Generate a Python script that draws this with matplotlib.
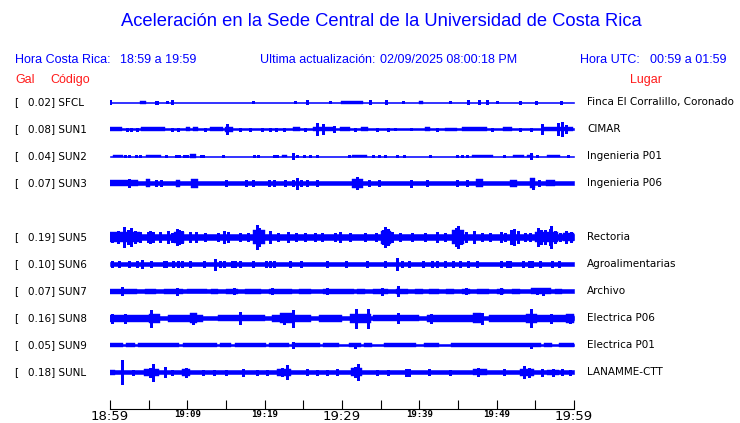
"""Aceleracion en la Sede Central de la UCR: one-hour acceleration traces."""

from datetime import datetime, timedelta

import matplotlib

matplotlib.use("Agg")
import matplotlib.pyplot as plt
import matplotlib.transforms as mtransforms

TITLE = "Aceleración en la Sede Central de la Universidad de Costa Rica"
LOCAL_START = "18:59"
LOCAL_END = "19:59"
UTC_START = "00:59"
UTC_END = "01:59"
UPDATED = "02/09/2025 08:00:18 PM"
WINDOW_MIN = 60

# one slot per station row; the empty slot is a station with no data
CODES = ["SFCL", "SUN1", "SUN2", "SUN3", "", "SUN5", "SUN6", "SUN7", "SUN8", "SUN9", "SUNL"]
PEAK_GAL = [0.02, 0.08, 0.04, 0.07, None, 0.19, 0.10, 0.07, 0.16, 0.05, 0.18]
PLACES = [
    "Finca El Corralillo, Coronado", "CIMAR", "Ingenieria P01", "Ingenieria P06", "",
    "Rectoria", "Agroalimentarias", "Archivo", "Electrica P06", "Electrica P01",
    "LANAMME-CTT",
]

# background noise half-amplitude of each trace (screen counts)
BASE = [0.5, 0.6, 0.5, 2.0, None, 3.2, 1.7, 1.7, 2.3, 0.8, 1.7]

# bursts: (start minute, end minute, half-amplitude)
SEG_SFCL = [(3.9, 4.7, 1.5), (29.9, 32.7, 1.5), (40.0, 40.5, 1.5)]
SEG_SUN1 = [(0.0, 1.5, 1.8), (4.0, 7.1, 1.8), (9.8, 10.3, 1.8), (10.7, 11.4, 1.8),
            (12.9, 14.6, 1.8), (14.9, 15.9, 2.5), (23.7, 24.6, 1.8), (26.2, 28.8, 2.2),
            (29.7, 31.0, 1.8), (32.5, 33.4, 1.8), (40.7, 41.4, 1.8), (43.3, 44.9, 1.5),
            (45.5, 48.8, 1.8), (50.8, 52.0, 1.8), (56.0, 59.9, 2.0)]
SEG_SUN2 = [(0.4, 1.7, 1.3), (4.7, 6.6, 1.2), (10.3, 11.1, 2.2), (22.2, 22.9, 1.2),
            (31.3, 33.2, 1.3), (46.8, 49.5, 1.3), (52.1, 53.5, 1.2), (53.9, 54.7, 1.3),
            (56.5, 58.2, 1.2)]
SEG_SUN3 = [(0.0, 3.6, 3.0), (4.7, 5.2, 4.0), (8.5, 9.0, 3.5), (10.5, 11.4, 4.5),
            (31.3, 32.7, 4.5), (47.3, 48.2, 4.0), (51.7, 52.6, 3.5), (54.3, 55.0, 5.0),
            (56.4, 57.5, 3.0)]
SEG_SUN5 = [(0.0, 3.9, 5.0), (8.3, 9.6, 5.5), (18.5, 20.0, 7.0), (35.1, 36.4, 6.5),
            (44.2, 45.8, 7.0), (55.0, 57.9, 5.0), (58.6, 60.0, 4.0)]
SEG_SUN6 = []
SEG_SUN7 = [(0.0, 3.5, 2.5), (4.5, 6.0, 2.5), (7.0, 9.5, 2.5), (10.0, 12.5, 2.3),
            (13.0, 14.0, 2.5), (15.0, 16.5, 2.5), (17.5, 19.5, 2.5), (20.5, 23.5, 2.5),
            (24.5, 26.0, 2.5), (27.5, 31.5, 2.5), (32.0, 33.0, 2.5), (34.0, 36.0, 2.5),
            (37.0, 38.5, 2.5), (39.5, 40.5, 2.5), (41.2, 42.5, 2.5), (43.5, 44.5, 2.5),
            (45.5, 46.5, 2.5), (47.5, 49.0, 2.5), (50.0, 51.0, 2.5), (52.0, 53.0, 2.5),
            (54.5, 57.0, 2.8), (57.5, 58.5, 2.5)]
SEG_SUN8 = [(0.0, 5.0, 3.5), (5.0, 6.5, 4.5), (7.5, 12.0, 3.5), (10.3, 11.3, 5.0),
            (14.0, 20.0, 3.3), (21.0, 26.0, 3.5), (22.0, 23.5, 5.0), (27.0, 30.0, 3.5),
            (31.0, 33.8, 4.5), (34.0, 40.0, 3.3), (41.0, 48.0, 3.5), (47.0, 48.0, 5.0),
            (49.0, 60.0, 3.5), (53.8, 55.2, 4.5), (59.0, 60.0, 4.5)]
SEG_SUN9 = [(0.0, 1.7, 1.7), (2.1, 3.2, 1.7), (3.6, 8.9, 1.7), (9.4, 13.8, 1.7),
            (14.2, 15.7, 1.7), (16.1, 20.2, 1.7), (20.6, 23.1, 1.7), (23.5, 27.1, 1.7),
            (27.5, 29.6, 1.7), (30.9, 32.5, 1.7), (32.9, 33.9, 1.7), (35.4, 39.6, 1.7),
            (40.6, 42.6, 1.7), (44.1, 55.7, 1.7), (56.1, 57.2, 1.7), (58.0, 60.0, 1.7)]
SEG_SUNL = [(0.0, 0.6, 2.5), (4.4, 6.3, 3.5), (9.3, 10.3, 3.5), (21.6, 23.4, 3.5),
            (31.1, 32.6, 4.0), (46.9, 48.8, 3.0), (53.0, 54.8, 3.5), (56.5, 58.0, 2.5)]

# single spikes: (minute, half-amplitude)
SPK_SFCL = [(0.05, 2.0), (5.9, 1.5), (6.1, 1.5), (7.4, 1.0), (8.0, 2.0), (18.5, 1.0),
            (23.9, 1.0), (25.5, 2.0), (28.4, 1.0), (33.6, 2.0), (35.7, 2.0), (37.9, 1.0),
            (44.0, 1.0), (46.3, 2.0), (47.7, 2.0), (48.7, 2.0), (50.0, 1.0), (53.0, 1.5),
            (55.1, 1.5), (58.3, 1.5)]
SPK_SUN1 = [(2.2, 1.5), (2.7, 1.5), (3.5, 1.5), (8.0, 1.5), (8.8, 1.5), (12.3, 1.5),
            (15.1, 5.0), (16.8, 1.5), (18.1, 1.5), (19.7, 1.5), (20.7, 1.5), (21.5, 1.5),
            (22.5, 1.5), (25.2, 1.5), (26.8, 6.0), (27.5, 5.0), (29.0, 3.0), (31.7, 1.5),
            (34.5, 1.5), (35.9, 1.5), (36.9, 1.0), (38.9, 1.0), (42.3, 1.5), (49.4, 1.5),
            (53.0, 1.5), (54.4, 1.5), (55.9, 5.0), (57.9, 6.0), (58.4, 7.0), (59.0, 4.0)]
SPK_SUN2 = [(1.9, 1.0), (2.5, 1.0), (3.4, 1.0), (3.9, 1.2), (7.2, 1.0), (8.5, 1.0),
            (8.9, 1.0), (9.6, 1.0), (10.0, 1.0), (11.8, 1.0), (12.0, 1.0), (14.6, 1.0),
            (18.6, 1.0), (19.1, 1.0), (21.2, 1.0), (21.6, 1.0), (23.7, 3.0), (24.2, 1.0),
            (25.1, 1.0), (25.9, 1.0), (26.8, 1.0), (30.9, 1.0), (34.0, 1.0), (34.8, 1.0),
            (35.6, 1.0), (37.1, 1.0), (38.0, 1.0), (41.4, 1.0), (44.9, 1.0), (45.5, 1.0),
            (46.2, 1.0), (50.9, 1.0), (54.4, 3.0), (55.2, 1.0), (59.2, 1.0)]
SPK_SUN3 = [(2.5, 3.8), (6.0, 3.0), (6.6, 3.0), (15.0, 3.0), (17.6, 3.0), (18.5, 3.0),
            (20.5, 3.0), (21.2, 3.0), (22.6, 3.0), (23.7, 3.0), (24.2, 5.5), (24.7, 3.0),
            (25.5, 3.0), (26.8, 3.0), (32.0, 6.0), (33.5, 3.0), (34.8, 3.0), (38.9, 3.5),
            (41.0, 3.0), (44.9, 3.0), (46.2, 3.0), (54.7, 5.5), (55.5, 3.0)]
SPK_SUN5 = [(0.3, 5.0), (1.0, 6.0), (1.8, 10.0), (2.3, 7.0), (2.7, 9.0), (3.2, 6.0),
            (3.9, 5.0), (4.9, 5.0), (5.2, 6.0), (5.6, 5.0), (6.5, 5.0), (7.5, 6.0),
            (8.0, 4.5), (8.7, 8.0), (8.9, 7.0), (9.3, 6.0), (10.3, 5.0), (11.1, 5.0),
            (12.3, 4.0), (14.0, 4.0), (14.7, 6.0), (15.3, 5.0), (16.8, 4.0), (17.8, 4.0),
            (18.7, 6.0), (19.0, 12.0), (19.3, 9.0), (19.7, 6.0), (20.7, 6.0), (21.7, 4.0),
            (23.0, 5.0), (24.1, 4.0), (25.2, 4.0), (26.5, 4.0), (27.4, 4.0), (29.1, 4.0),
            (29.7, 5.0), (31.0, 4.0), (33.0, 4.0), (34.4, 4.0), (35.3, 7.0), (35.6, 10.0),
            (35.9, 8.0), (36.5, 5.0), (37.5, 4.0), (39.0, 4.0), (40.7, 4.0), (42.3, 5.0),
            (43.3, 4.0), (44.4, 6.0), (44.7, 9.0), (45.0, 11.0), (45.4, 7.0), (46.0, 5.0),
            (47.1, 6.0), (48.1, 4.0), (49.1, 4.0), (50.6, 5.0), (51.1, 4.0), (51.9, 7.0),
            (52.2, 8.0), (52.8, 6.0), (53.7, 4.0), (54.3, 4.0), (55.3, 9.0), (55.7, 7.0),
            (56.2, 7.0), (56.9, 8.0), (57.0, 11.0), (57.5, 6.0), (58.2, 4.0), (59.0, 6.0),
            (59.6, 5.0)]
SPK_SUN6 = [(0.3, 3.0), (1.2, 3.0), (2.5, 3.0), (3.5, 3.0), (4.2, 4.0), (5.3, 3.0),
            (7.0, 3.0), (7.2, 3.0), (8.2, 3.0), (8.8, 3.0), (9.3, 3.0), (10.3, 3.0),
            (12.2, 3.0), (13.6, 5.5), (14.2, 3.0), (14.8, 3.0), (15.8, 3.0), (16.2, 3.0),
            (16.8, 3.0), (18.5, 3.0), (20.2, 3.0), (20.7, 3.0), (21.2, 3.0), (23.3, 3.0),
            (24.7, 3.0), (28.1, 3.0), (30.5, 3.0), (33.2, 3.0), (35.6, 3.0), (37.1, 6.0),
            (37.8, 3.0), (38.7, 3.0), (40.5, 3.0), (41.6, 3.0), (42.3, 3.0), (43.3, 3.0),
            (44.3, 3.0), (45.3, 3.0), (46.3, 3.0), (47.5, 3.0), (50.5, 3.0), (51.3, 3.0),
            (51.7, 3.0), (53.4, 3.0), (54.2, 3.0), (54.6, 3.0), (55.6, 3.0), (57.2, 3.0),
            (58.0, 3.0)]
SPK_SUN7 = [(1.5, 4.2), (8.6, 3.5), (16.0, 3.0), (20.9, 3.0), (28.0, 3.0), (35.2, 3.5),
            (37.3, 5.0), (46.0, 3.0), (50.5, 3.0), (55.2, 3.0), (56.0, 3.5)]
SPK_SUN8 = [(0.3, 4.5), (2.0, 4.5), (5.3, 8.5), (10.7, 5.5), (16.8, 6.0), (22.5, 5.5),
            (23.6, 8.5), (31.8, 9.5), (33.4, 9.5), (37.2, 5.0), (41.5, 4.5), (48.1, 5.5),
            (54.5, 9.0), (57.0, 4.5), (59.5, 4.5)]
SPK_SUN9 = [(23.6, 3.0), (31.7, 2.5), (54.4, 2.5)]
SPK_SUNL = [(1.5, 12.0), (3.0, 2.5), (5.2, 4.5), (5.6, 8.5), (7.1, 5.0), (8.0, 2.5),
            (9.8, 4.5), (12.0, 2.5), (13.5, 2.5), (15.0, 2.5), (17.2, 3.5), (19.0, 2.5),
            (20.3, 2.5), (22.3, 4.0), (22.9, 7.0), (25.5, 3.0), (26.8, 2.5), (28.0, 2.5),
            (29.3, 3.0), (31.7, 5.0), (32.1, 8.0), (34.5, 2.5), (36.0, 2.5), (38.3, 3.5),
            (38.7, 3.5), (41.2, 3.0), (44.0, 2.5), (47.6, 4.0), (51.0, 3.0), (53.5, 6.0),
            (54.2, 4.5), (55.9, 3.5), (57.3, 3.5), (58.5, 3.0), (59.5, 2.5)]

SEGMENTS = [SEG_SFCL, SEG_SUN1, SEG_SUN2, SEG_SUN3, None, SEG_SUN5, SEG_SUN6,
            SEG_SUN7, SEG_SUN8, SEG_SUN9, SEG_SUNL]
SPIKES = [SPK_SFCL, SPK_SUN1, SPK_SUN2, SPK_SUN3, None, SPK_SUN5, SPK_SUN6,
          SPK_SUN7, SPK_SUN8, SPK_SUN9, SPK_SUNL]

BLUE = "#0000ff"
RED = "#ff1a1a"
W, H = 740, 423
ROW_PX = 27.0  # one row of the plot in screen counts


def fx(px):
    return px / W


def fy(py):
    return 1 - py / H


def main():
    fig = plt.figure(figsize=(W / 100, H / 100), dpi=100)
    ax = fig.add_axes([fx(110), fy(409), fx(574) - fx(110), fy(90) - fy(409)])

    # header
    head = dict(color=BLUE, family="Liberation Sans", va="center")
    fig.text(fx(381), fy(22), TITLE, ha="center", fontsize=13.2, **head)
    fig.text(fx(15), fy(60), "Hora Costa Rica:", fontsize=9, **head)
    fig.text(fx(120), fy(60), f"{LOCAL_START} a {LOCAL_END}", fontsize=9, **head)
    fig.text(fx(260), fy(60), "Ultima actualización:", fontsize=9, **head)
    fig.text(fx(380), fy(60), UPDATED, fontsize=9, **head)
    fig.text(fx(580), fy(60), "Hora UTC:", fontsize=9, **head)
    fig.text(fx(650), fy(60), f"{UTC_START} a {UTC_END}", fontsize=9, **head)
    red = dict(color=RED, family="Liberation Sans", va="center", fontsize=9)
    fig.text(fx(15), fy(80), "Gal", **red)
    fig.text(fx(50), fy(80), "Código", **red)
    fig.text(fx(630), fy(80), "Lugar", **red)

    # rows: figure x, data y
    trans = mtransforms.blended_transform_factory(fig.transFigure, ax.transData)
    lab = dict(transform=trans, va="center", fontsize=7.5, color="black",
               family="DejaVu Sans")
    s = 1.0 / ROW_PX
    for row, code in enumerate(CODES):
        if not code:
            continue
        ax.text(fx(14), row, "[", **lab)
        ax.text(fx(28), row, f"{PEAK_GAL[row]:.2f}] {code}", **lab)
        ax.text(fx(587), row, PLACES[row], **lab)

        b = BASE[row] * s
        ax.fill_between([0, WINDOW_MIN], row - b, row + b, color=BLUE, lw=0.4,
                        antialiased=False)
        for t0, t1, h in SEGMENTS[row]:
            ax.fill_between([t0, t1], row - h * s, row + h * s, color=BLUE, lw=0.3,
                            antialiased=False)
        ts = [t for t, _ in SPIKES[row]]
        hs = [h * s for _, h in SPIKES[row]]
        ax.vlines(ts, [row - h for h in hs], [row + h for h in hs], color=BLUE,
                  lw=0.75, antialiased=False)

    ax.set_xlim(0, WINDOW_MIN)
    ax.set_ylim((409 - 102) / ROW_PX, (90 - 102) / ROW_PX)
    for side in ("left", "right", "top"):
        ax.spines[side].set_visible(False)
    ax.spines["bottom"].set_linewidth(0.8)
    ax.set_yticks([])

    # time axis: tick every 5 min, label every 10 min
    start = datetime.strptime(LOCAL_START, "%H:%M")
    ticks = list(range(0, WINDOW_MIN + 1, 5))
    labels = [(start + timedelta(minutes=m)).strftime("%H:%M") if m % 10 == 0 else ""
              for m in ticks]
    ax.set_xticks(ticks)
    ax.set_xticklabels(labels)
    ax.tick_params(axis="x", direction="in", length=6.5, width=0.8, pad=0.5)
    for m, t in zip(ticks, ax.get_xticklabels()):
        if m % 30 == 0:
            t.set_fontsize(9.5)
            t.set_family("DejaVu Sans")
        else:
            t.set_fontsize(6.5)
            t.set_family("DejaVu Sans Mono")
            t.set_fontweight("bold")

    fig.savefig("out.png", dpi=100)
    plt.close(fig)


if __name__ == "__main__":
    main()
